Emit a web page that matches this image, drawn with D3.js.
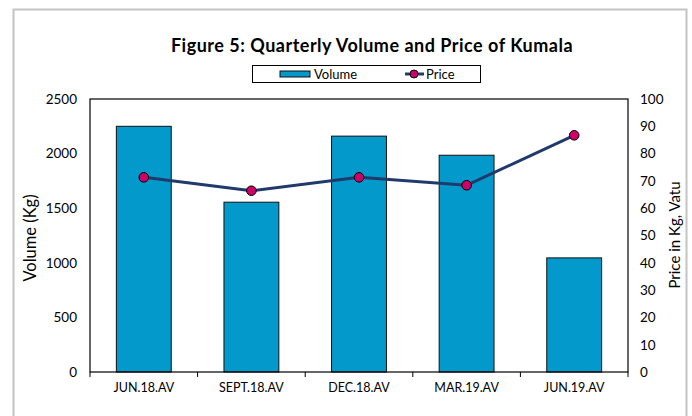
<!DOCTYPE html>
<html>
<head>
<meta charset="utf-8">
<script src="https://cdn.jsdelivr.net/npm/d3@7"></script>
<style>
  body { margin: 0; background: #fff; }
  text { font-family: Lato, "Open Sans", sans-serif; fill: #000; }
</style>
</head>
<body>
<div id="chart"></div>
<script>
var width = 692
var height = 416

// data
const quarters = ["JUN.18.AV", "SEPT.18.AV", "DEC.18.AV", "MAR.19.AV", "JUN.19.AV"];
const volume = [2250, 1555, 2160, 1985, 1045];
const price = [71.3, 66.4, 71.3, 68.4, 86.7];
const volTicks = [0, 500, 1000, 1500, 2000, 2500];
const priceTicks = [0, 10, 20, 30, 40, 50, 60, 70, 80, 90, 100];

const margin = {left: 90, right: 64, top: 99, bottom: 44};
const plotW = width - margin.left - margin.right;
const plotH = height - margin.top - margin.bottom;

const svg = d3.select("#chart")
    .append("svg")
    .attr("width", width)
    .attr("height", height);

// outer chart border (bottom is cut off in the reference)
svg.append("path")
    .attr("d", "M13.5,420 V9.5 H686.5 V420")
    .attr("fill", "none")
    .attr("stroke", "#c4c4c4")
    .attr("stroke-width", 2);

svg.append("text")
    .attr("x", 372)
    .attr("y", 52)
    .attr("text-anchor", "middle")
    .style("font-size", "18px")
    .style("letter-spacing", "0.5px")
    .style("font-weight", "bold")
    .text("Figure 5: Quarterly Volume and Price of Kumala");

const x = d3.scaleBand().domain(quarters).range([0, plotW]).paddingInner(0.49).paddingOuter(0.245);
const xb = d3.scaleBand().domain(quarters).range([0, plotW]);
const yVol = d3.scaleLinear().domain([0, 2500]).range([plotH, 0]);
const yPrice = d3.scaleLinear().domain([0, 100]).range([plotH, 0]);

const g = svg.append("g").attr("transform", `translate(${margin.left},${margin.top})`);

// bars
g.selectAll("rect.bar")
    .data(volume)
    .enter()
    .append("rect")
    .attr("class", "bar")
    .attr("x", (d, i) => x(quarters[i]))
    .attr("width", x.bandwidth())
    .attr("y", d => yVol(d))
    .attr("height", d => plotH - yVol(d))
    .attr("fill", "#0399cb")
    .attr("stroke", "#111")
    .attr("stroke-width", 1);

// plot frame
g.append("rect")
    .attr("x", 0).attr("y", 0)
    .attr("width", plotW).attr("height", plotH)
    .attr("fill", "none")
    .attr("stroke", "#000")
    .attr("stroke-width", 1.2);

// left axis
const yAxisL = g.append("g")
    .call(d3.axisLeft(yVol).tickValues(volTicks).tickFormat(d3.format("d")).tickSize(0).tickPadding(13));
yAxisL.select(".domain").remove();
yAxisL.selectAll("text").style("font-size", "13.5px").style("font-family", "Lato, sans-serif");

// right axis
const yAxisR = g.append("g")
    .attr("transform", `translate(${plotW},0)`)
    .call(d3.axisRight(yPrice).tickValues(priceTicks).tickSize(0).tickPadding(12));
yAxisR.select(".domain").remove();
yAxisR.selectAll("text").style("font-size", "13.5px").style("font-family", "Lato, sans-serif");

// bottom axis with ticks on category boundaries
const xAxis = g.append("g")
    .attr("transform", `translate(0,${plotH})`)
    .call(d3.axisBottom(x).tickSize(0).tickPadding(11));
xAxis.select(".domain").remove();
xAxis.selectAll("text").style("font-size", "12.5px").style("font-family", "Lato, sans-serif");
g.selectAll("line.xtick")
    .data(quarters.concat(["end"]))
    .enter()
    .append("line")
    .attr("class", "xtick")
    .attr("x1", (d, i) => i < quarters.length ? xb(d) : plotW)
    .attr("x2", (d, i) => i < quarters.length ? xb(d) : plotW)
    .attr("y1", plotH)
    .attr("y2", plotH + 5)
    .attr("stroke", "#000");

// price line
const line = d3.line()
    .x((d, i) => xb(quarters[i]) + xb.bandwidth() / 2)
    .y(d => yPrice(d));
g.append("path")
    .datum(price)
    .attr("d", line)
    .attr("fill", "none")
    .attr("stroke", "#203a6c")
    .attr("stroke-width", 3);
g.selectAll("circle.pt")
    .data(price)
    .enter()
    .append("circle")
    .attr("class", "pt")
    .attr("cx", (d, i) => xb(quarters[i]) + xb.bandwidth() / 2)
    .attr("cy", d => yPrice(d))
    .attr("r", 4.8)
    .attr("fill", "#cc0066")
    .attr("stroke", "#000")
    .attr("stroke-width", 1);

// axis titles
svg.append("text")
    .attr("transform", `translate(36,238) rotate(-90)`)
    .attr("text-anchor", "middle")
    .style("font-size", "16.5px")
    .text("Volume (Kg)");
svg.append("text")
    .attr("transform", `translate(680,235) rotate(-90)`)
    .attr("text-anchor", "middle")
    .style("font-size", "15px")
    .text("Price in Kg, Vatu");

// legend
const leg = svg.append("g");
leg.append("rect")
    .attr("x", 252.5).attr("y", 65.5)
    .attr("width", 228).attr("height", 17)
    .attr("fill", "#fff")
    .attr("stroke", "#000");
leg.append("rect")
    .attr("x", 280).attr("y", 71)
    .attr("width", 30).attr("height", 6)
    .attr("fill", "#0399cb")
    .attr("stroke", "#111");
leg.append("text")
    .attr("x", 314).attr("y", 79)
    .style("font-size", "13px")
    .text("Volume");
leg.append("line")
    .attr("x1", 405).attr("x2", 424)
    .attr("y1", 74).attr("y2", 74)
    .attr("stroke", "#203a6c")
    .attr("stroke-width", 3);
leg.append("circle")
    .attr("cx", 414).attr("cy", 74).attr("r", 4)
    .attr("fill", "#cc0066")
    .attr("stroke", "#000");
leg.append("text")
    .attr("x", 426).attr("y", 79)
    .style("font-size", "13px")
    .text("Price");
</script>
</body>
</html>
